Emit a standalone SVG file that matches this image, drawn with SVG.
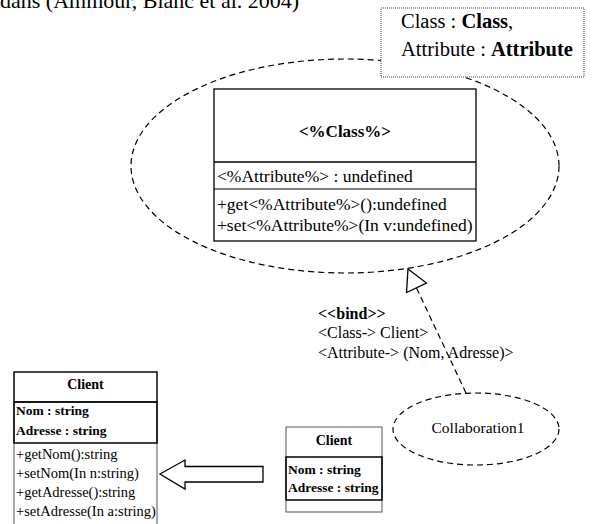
<svg xmlns="http://www.w3.org/2000/svg" width="597" height="524" viewBox="0 0 597 524">
<style>
text{font-family:"Liberation Serif","Times New Roman",serif;fill:#000}
.b{font-weight:bold}
.dash{fill:none;stroke:#000;stroke-width:1.2;stroke-dasharray:6 4}
.box{fill:#fff;stroke:#000;stroke-width:1.3}
.gbox{fill:#fff;stroke:#555;stroke-width:1}
</style>
<rect width="597" height="524" fill="#fff"/>
<g font-family="Liberation Serif, Times New Roman, serif">
<text x="0" y="8" font-size="22">dans (Ammour, Blanc et al. 2004)</text>

<g id="collab-template">
<ellipse class="dash" cx="345" cy="166" rx="214" ry="107"/>
</g>

<g id="params">
<rect x="381" y="8" width="203" height="69" fill="#fff" stroke="#444" stroke-width="1" stroke-dasharray="1 1"/>
<text x="401" y="28" font-size="20.5">Class : <tspan class="b">Class</tspan>,</text>
<text x="401" y="56" font-size="20.5">Attribute : <tspan class="b">Attribute</tspan></text>
</g>

<g id="template-class">
<rect class="box" x="214" y="89" width="262" height="152"/>
<line x1="214" y1="162" x2="476" y2="162" stroke="#000" stroke-width="1.5"/>
<line x1="214" y1="189" x2="476" y2="189" stroke="#000" stroke-width="1"/>
<text class="b" x="345" y="137" font-size="17" text-anchor="middle">&lt;%Class%&gt;</text>
<text x="217" y="182" font-size="17.5">&lt;%Attribute%&gt; : undefined</text>
<text x="217" y="210" font-size="17.5">+get&lt;%Attribute%&gt;():undefined</text>
<text x="217" y="231" font-size="17.5">+set&lt;%Attribute%&gt;(In v:undefined)</text>
</g>

<g id="collaboration1">
<ellipse class="dash" cx="476" cy="429" rx="83" ry="36"/>
<text x="478" y="433" font-size="15.5" text-anchor="middle">Collaboration1</text>
</g>

<g id="client-small">
<rect class="gbox" x="286" y="427" width="96" height="85"/>
<rect x="286" y="457" width="96" height="43" fill="none" stroke="#000" stroke-width="1.5"/>
<text class="b" x="334" y="445" font-size="14" text-anchor="middle">Client</text>
<text class="b" x="288" y="474" font-size="13.5">Nom : string</text>
<text class="b" x="288" y="492" font-size="13.5">Adresse : string</text>
</g>

<g id="client-big">
<rect class="gbox" x="14" y="372" width="143" height="160"/>
<rect x="14" y="372" width="143" height="30" fill="none" stroke="#000" stroke-width="1.2"/>
<rect x="14" y="402" width="143" height="41" fill="none" stroke="#000" stroke-width="1.5"/>
<text class="b" x="85.5" y="389" font-size="14" text-anchor="middle">Client</text>
<text class="b" x="16" y="415" font-size="13.5">Nom : string</text>
<text class="b" x="16" y="435" font-size="13.5">Adresse : string</text>
<text x="16" y="459" font-size="14.5">+getNom():string</text>
<text x="16" y="478" font-size="14.5">+setNom(In n:string)</text>
<text x="16" y="497" font-size="14.5">+getAdresse():string</text>
<text x="16" y="516" font-size="14.5">+setAdresse(In a:string)</text>
</g>

<g id="connectors">
<line class="dash" x1="466" y1="393" x2="416.5" y2="288"/>
<polygon points="408,269 426.5,283 406.5,292.5" fill="#fff" stroke="#000" stroke-width="1.3"/>
<polygon points="160,474 185,460 185,466.5 263,466.5 263,482 185,482 185,489" fill="#fff" stroke="#000" stroke-width="1.3"/>
<text class="b" x="318" y="319" font-size="16">&lt;&lt;bind&gt;&gt;</text>
<text x="318" y="338" font-size="16">&lt;Class-&gt; Client&gt;</text>
<text x="318" y="358" font-size="16">&lt;Attribute-&gt; (Nom, Adresse)&gt;</text>
</g>
</g>
</svg>
